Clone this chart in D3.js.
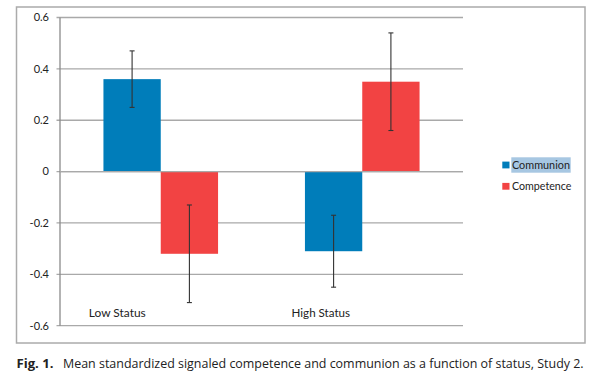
<!DOCTYPE html>
<html><head><meta charset="utf-8">
<script src="https://cdn.jsdelivr.net/npm/d3@7"></script>
<style>body{margin:0;background:#fff}svg{display:block}</style></head>
<body>
<svg id="c" width="600" height="373"></svg>
<script>
const categories = ["Low Status", "High Status"];
const seriesNames = ["Communion", "Competence"];
const communion = [0.36, -0.31];
const competence = [-0.32, 0.35];
const communionErr = [[0.25, 0.47], [-0.45, -0.17]];
const competenceErr = [[-0.51, -0.13], [0.16, 0.54]];
const yTicks = [-0.6, -0.4, -0.2, 0, 0.2, 0.4, 0.6];
const tickLabels = ["-0.6", "-0.4", "-0.2", "0", "0.2", "0.4", "0.6"];
const colors = ["#007dba", "#f24343"];
const captionLabel = "Fig. 1.";
const captionText = "Mean standardized signaled competence and communion as a function of status, Study 2.";

const svg = d3.select("#c");
const chartFont = "Lato, 'Open Sans', sans-serif";
const capFont = "'Open Sans', 'Noto Sans', sans-serif";

function fit(sel, w) {
  const n = sel.node();
  let fs = parseFloat(sel.attr("font-size"));
  const cur = n.getComputedTextLength();
  sel.attr("font-size", (fs * w / cur).toFixed(2));
}

// outer frame
svg.append("rect").attr("x", 16.5).attr("y", 7).attr("width", 568.5).attr("height", 336)
  .attr("fill", "none").attr("stroke", "#ababab").attr("stroke-width", 1.5);

const y = d3.scaleLinear().domain([-0.6, 0.6]).range([325.7, 17.5]);
const x0 = d3.scaleBand().domain(categories).range([60, 463]).paddingInner(0).paddingOuter(0);
const x1 = d3.scaleBand().domain(seriesNames).range([0, x0.bandwidth()]).paddingInner(0).paddingOuter(0.758);

// gridlines
svg.append("g").selectAll("line").data(yTicks).join("line")
  .attr("x1", 56.5).attr("x2", 463).attr("y1", d => y(d)).attr("y2", d => y(d))
  .attr("stroke", "#a9a9a9").attr("stroke-width", 1.3);

// y axis line
svg.append("line").attr("x1", 60).attr("x2", 60).attr("y1", y(0.6)).attr("y2", y(-0.6))
  .attr("stroke", "#8a8a8a").attr("stroke-width", 1.3);

// tick labels
svg.append("g").selectAll("text").data(yTicks).join("text")
  .attr("x", 49).attr("y", d => y(d)).attr("dy", "0.35em")
  .attr("text-anchor", "end").attr("font-family", chartFont).attr("font-size", 11)
  .attr("fill", "#222").text((d, i) => tickLabels[i]);

// bars
const data = categories.map((c, i) => ({
  c, vals: [
    { s: seriesNames[0], v: communion[i], e: communionErr[i], col: colors[0] },
    { s: seriesNames[1], v: competence[i], e: competenceErr[i], col: colors[1] }
  ]
}));
const g = svg.append("g").selectAll("g").data(data).join("g")
  .attr("transform", d => `translate(${x0(d.c)},0)`);
g.selectAll("rect").data(d => d.vals).join("rect")
  .attr("x", d => x1(d.s)).attr("width", x1.bandwidth())
  .attr("y", d => y(Math.max(0, d.v))).attr("height", d => Math.abs(y(d.v) - y(0)))
  .attr("fill", d => d.col);

// zero axis line over bars
svg.append("line").attr("x1", 60).attr("x2", 463).attr("y1", y(0)).attr("y2", y(0))
  .attr("stroke", "#a9a9a9").attr("stroke-width", 1.3);

// error bars
const eb = g.selectAll("g.eb").data(d => d.vals).join("g").attr("class", "eb")
  .attr("stroke", "#333").attr("stroke-width", 1.1);
eb.append("line").attr("x1", d => x1(d.s) + x1.bandwidth() / 2).attr("x2", d => x1(d.s) + x1.bandwidth() / 2)
  .attr("y1", d => y(d.e[0])).attr("y2", d => y(d.e[1]));
eb.selectAll("line.cap").data(d => [[d, d.e[0]], [d, d.e[1]]]).join("line").attr("class", "cap")
  .attr("x1", d => x1(d[0].s) + x1.bandwidth() / 2 - 2.5).attr("x2", d => x1(d[0].s) + x1.bandwidth() / 2 + 2.5)
  .attr("y1", d => y(d[1])).attr("y2", d => y(d[1]));

// category labels
svg.append("g").selectAll("text").data(categories).join("text")
  .attr("x", (d, i) => x0(d) + x1.bandwidth() + (i === 0 ? 0 : 2))
  .attr("y", 317).attr("text-anchor", "middle")
  .attr("font-family", chartFont).attr("font-size", 12).attr("fill", "#222")
  .text(d => d)
  .each(function (d, i) { fit(d3.select(this), i === 0 ? 57 : 58.5); });

// legend
const leg = svg.append("g");
leg.append("rect").attr("x", 511.3).attr("y", 157.3).attr("width", 59.4).attr("height", 15.4).attr("fill", "#a7c7e2");
seriesNames.forEach((s, i) => {
  const yy = 165 + i * 21.3;
  leg.append("rect").attr("x", 502.3).attr("y", yy - 3.4).attr("width", 7.2).attr("height", 6.8).attr("fill", colors[i]);
  const t = leg.append("text").attr("x", 512).attr("y", yy).attr("dy", "0.36em")
    .attr("font-family", chartFont).attr("font-size", 11.5).attr("fill", "#222").text(s);
  fit(t, i === 0 ? 58 : 59.5);
});

// caption
const c1 = svg.append("text").attr("x", 16.5).attr("y", 368).attr("font-family", capFont)
  .attr("font-weight", "bold").attr("font-size", 12.5).attr("fill", "#222").text(captionLabel);
fit(c1, 37);
const c2 = svg.append("text").attr("x", 63).attr("y", 368).attr("font-family", capFont)
  .attr("font-size", 12.5).attr("fill", "#222").text(captionText);
fit(c2, 521);
</script>
</body></html>
